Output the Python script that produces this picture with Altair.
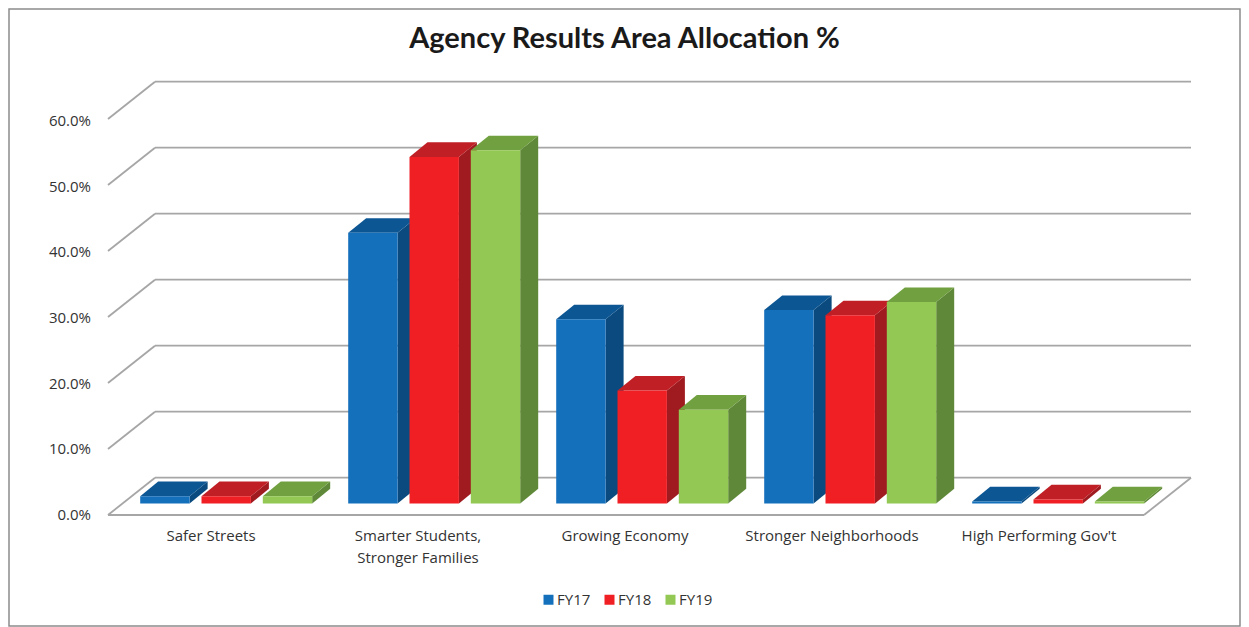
import altair as alt
import pandas as pd

categories = ["Safer Streets", "Smarter Students,\nStronger Families", "Growing Economy",
              "Stronger Neighborhoods", "High Performing Gov't"]
series = ["FY17", "FY18", "FY19"]
fy17 = [1.1, 41.0, 27.9, 29.3, 0.3]
fy18 = [1.1, 52.5, 17.1, 28.5, 0.6]
fy19 = [1.1, 53.5, 14.2, 30.5, 0.3]
ticks = [0.0, 0.1, 0.2, 0.3, 0.4, 0.5, 0.6]

front_colors = ["#1570BC", "#EF1F24", "#92C853"]
top_colors = ["#0C5694", "#C01F25", "#70A03F"]
side_colors = ["#0A4A7E", "#9F1B20", "#5F8838"]
GRID = "#A6A6A6"
TEXT = "#333333"
FONT = "Open Sans"

W, H = 1233, 619
OX, OY = 8, 8          # page margin
FLOOR_Y = 515 - OY     # pixel row of 0 % on the front plane
PX_PER_UNIT = 660.0    # pixels for 100 %
y_domain = [(FLOOR_Y - H) / PX_PER_UNIT, FLOOR_Y / PX_PER_UNIT]
x_scale = alt.Scale(domain=[0, W], nice=False, zero=False)
y_scale = alt.Scale(domain=y_domain, nice=False, zero=False)


def dv(px):
    return px / PX_PER_UNIT


# wall and floor geometry
LEFT_F, LEFT_B, RIGHT_F, RIGHT_B = 108 - OX, 155 - OX, 1144 - OX, 1191 - OX
WALL_DY = dv(37.3)
rules = []
for t in ticks:
    rules.append(dict(x=LEFT_F, x2=LEFT_B, y=t, y2=t + WALL_DY))
    rules.append(dict(x=LEFT_B, x2=RIGHT_B, y=t + WALL_DY, y2=t + WALL_DY))
rules.append(dict(x=LEFT_F, x2=RIGHT_F, y=0, y2=0))
rules.append(dict(x=RIGHT_F, x2=RIGHT_B, y=0, y2=WALL_DY))

# bar geometry
BASE = dv(11.6)
CLUSTER0, CLUSTER_STEP, BAR_STEP, BAR_W = 140.2 - OX, 208.0, 61.3, 49.4
DEPTH_X, DEPTH_Y = 18.0, dv(14.6)

fronts, sides, tops = [], [], []
for c, vals in enumerate(zip(fy17, fy18, fy19)):
    for s, v in enumerate(vals):
        x0 = CLUSTER0 + c * CLUSTER_STEP + s * BAR_STEP
        x1 = x0 + BAR_W
        top = BASE + v / 100.0
        fronts.append(dict(x=x0, x2=x1, y=BASE, y2=top, series=series[s]))
        fid = f"{c}-{s}"
        sides.append(dict(id=fid, x=x1, y=top, y2=BASE, c=side_colors[s]))
        sides.append(dict(id=fid, x=x1 + DEPTH_X, y=top + DEPTH_Y, y2=BASE + DEPTH_Y, c=side_colors[s]))
        tops.append(dict(id=fid, y=top, x=x0, x2=x1, c=top_colors[s]))
        tops.append(dict(id=fid, y=top + DEPTH_Y, x=x0 + DEPTH_X, x2=x1 + DEPTH_X, c=top_colors[s]))

labels = pd.DataFrame({"label": categories,
                       "x": [211 - OX + 207 * i for i in range(5)]})
tick_df = pd.DataFrame({"tick": ticks, "y": [t * 0.995 for t in ticks]})

X = alt.X("x:Q", scale=x_scale, axis=None)
Y = alt.Y("y:Q", scale=y_scale, axis=None)

walls = alt.Chart(pd.DataFrame(rules)).mark_rule(color=GRID, strokeWidth=1.8).encode(
    x=X, x2="x2:Q", y=Y, y2="y2:Q",
)
tick_layer = alt.Chart(tick_df).mark_text(font=FONT, fontSize=15, color=TEXT, align="right",
                                          baseline="middle").encode(
    x=alt.value(83), y=Y, text=alt.Text("tick:Q", format=".1%"),
)

side_layer = alt.Chart(pd.DataFrame(sides)).mark_area(orient="vertical", line=False).encode(
    x=X, y=Y, y2="y2:Q", detail="id:N", fill=alt.Fill("c:N", scale=None),
)
top_layer = alt.Chart(pd.DataFrame(tops)).mark_area(orient="horizontal", line=False).encode(
    y=Y, x=X, x2="x2:Q", detail="id:N", fill=alt.Fill("c:N", scale=None),
)
front_layer = alt.Chart(pd.DataFrame(fronts)).mark_rect().encode(
    x=X, x2="x2:Q", y=Y, y2="y2:Q",
    color=alt.Color("series:N", sort=series,
                    scale=alt.Scale(domain=series, range=front_colors),
                    legend=alt.Legend(orient="none", legendX=533, legendY=584, direction="horizontal",
                                      title=None, symbolType="square", symbolSize=100, symbolStrokeWidth=0,
                                      labelFont=FONT, labelFontSize=15, labelColor=TEXT, labelOffset=1,
                                      columnPadding=11, padding=0)),
)
cat_layer = alt.Chart(labels).mark_text(font=FONT, fontSize=15, color=TEXT, baseline="top",
                                        lineBreak="\n", lineHeight=21.5, align="center").encode(
    x=X, y=alt.value(521), text="label:N",
)
frame = alt.Chart(pd.DataFrame({"k": [0]})).mark_rect(fill=None, stroke="#8C8C8C", strokeWidth=1.5).encode(
    x=alt.value(1), x2=alt.value(1232), y=alt.value(1), y2=alt.value(618),
)

chart = alt.layer(walls, tick_layer, side_layer, top_layer, front_layer, cat_layer, frame).properties(
    width=W, height=H,
    padding=0,
    autosize=alt.AutoSizeParams(type="none"),
    background="white",
    title=alt.TitleParams("Agency Results Area Allocation %", font="Lato", fontSize=29, fontWeight="bold",
                          color="#1A1A1A", anchor="middle", offset=-46),
).configure_view(stroke=None)

chart.save("out.html", embed_options={"renderer": "svg", "actions": False})
